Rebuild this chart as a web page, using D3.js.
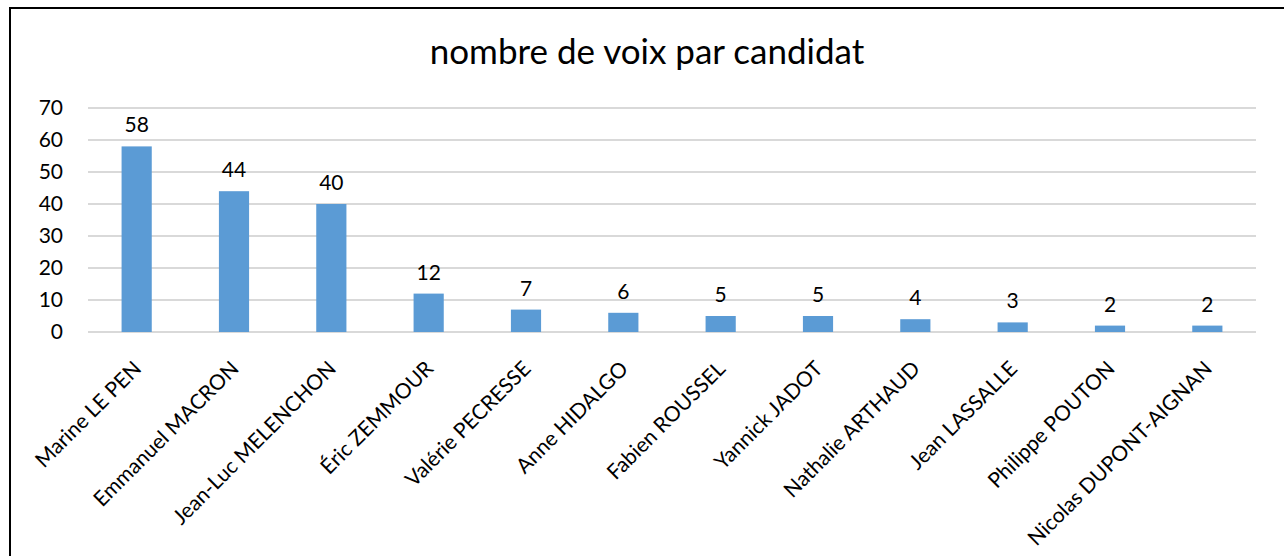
<!DOCTYPE html>
<html lang="fr">
<head>
<meta charset="utf-8">
<title>nombre de voix par candidat</title>
<script src="https://d3js.org/d3.v7.min.js"></script>
<style>
  body { margin: 0; background: #fff; }
  svg { display: block; }
  text { font-family: Lato, "Open Sans", sans-serif; fill: #000; }
</style>
</head>
<body>
<script>
const candidats = ["Marine LE PEN", "Emmanuel MACRON", "Jean-Luc MELENCHON", "Éric ZEMMOUR",
  "Valérie PECRESSE", "Anne HIDALGO", "Fabien ROUSSEL", "Yannick JADOT",
  "Nathalie ARTHAUD", "Jean LASSALLE", "Philippe POUTON", "Nicolas DUPONT-AIGNAN"];
const voix = [58, 44, 40, 12, 7, 6, 5, 5, 4, 3, 2, 2];
const yTicks = [0, 10, 20, 30, 40, 50, 60, 70];
const titre = "nombre de voix par candidat";

const width = 1284, height = 556;
const plotLeft = 88, plotRight = 1256, plotTop = 108, plotBottom = 332;

const svg = d3.select("body").append("svg")
  .attr("width", width).attr("height", height);

// chart frame (only top and left edges visible)
svg.append("path")
  .attr("d", `M10,${height} V8 H${width}`)
  .attr("fill", "none").attr("stroke", "#000").attr("stroke-width", 2);

svg.append("text")
  .attr("x", 647).attr("y", 64)
  .attr("text-anchor", "middle")
  .style("font-size", "35px")
  .text(titre);

const x = d3.scaleBand().domain(candidats).range([plotLeft, plotRight])
  .paddingInner(0.69).paddingOuter(0.345);
const y = d3.scaleLinear().domain([0, 70]).range([plotBottom, plotTop]);

// gridlines
svg.append("g").selectAll("line").data(yTicks).join("line")
  .attr("x1", plotLeft).attr("x2", plotRight)
  .attr("y1", d => y(d)).attr("y2", d => y(d))
  .attr("stroke", "#d9d9d9").attr("stroke-width", 2);

// y axis labels
const yAxis = svg.append("g")
  .attr("transform", `translate(${plotLeft - 25},0)`)
  .call(d3.axisLeft(y).tickValues(yTicks).tickSize(0).tickPadding(0));
yAxis.select(".domain").remove();
yAxis.selectAll("text").style("font-size", "21px").style("font-family", "Lato, sans-serif");

// bars
svg.append("g").selectAll("rect").data(voix).join("rect")
  .attr("x", (d, i) => x(candidats[i]))
  .attr("y", d => y(d))
  .attr("width", x.bandwidth())
  .attr("height", d => y(0) - y(d))
  .attr("fill", "#5b9bd5");

// data labels
svg.append("g").selectAll("text").data(voix).join("text")
  .attr("x", (d, i) => x(candidats[i]) + x.bandwidth() / 2)
  .attr("y", d => y(d) - 14)
  .attr("text-anchor", "middle")
  .style("font-size", "21px")
  .text(d => d);

// x axis labels
const xAxis = svg.append("g")
  .attr("transform", `translate(0,${plotBottom})`)
  .call(d3.axisBottom(x).tickSize(0).tickPadding(0));
xAxis.select(".domain").remove();
xAxis.selectAll("text")
  .style("font-size", "21px").style("font-family", "Lato, sans-serif")
  .attr("text-anchor", "end")
  .attr("dy", 0)
  .attr("transform", "translate(6,38) rotate(-45)");
</script>
</body>
</html>
